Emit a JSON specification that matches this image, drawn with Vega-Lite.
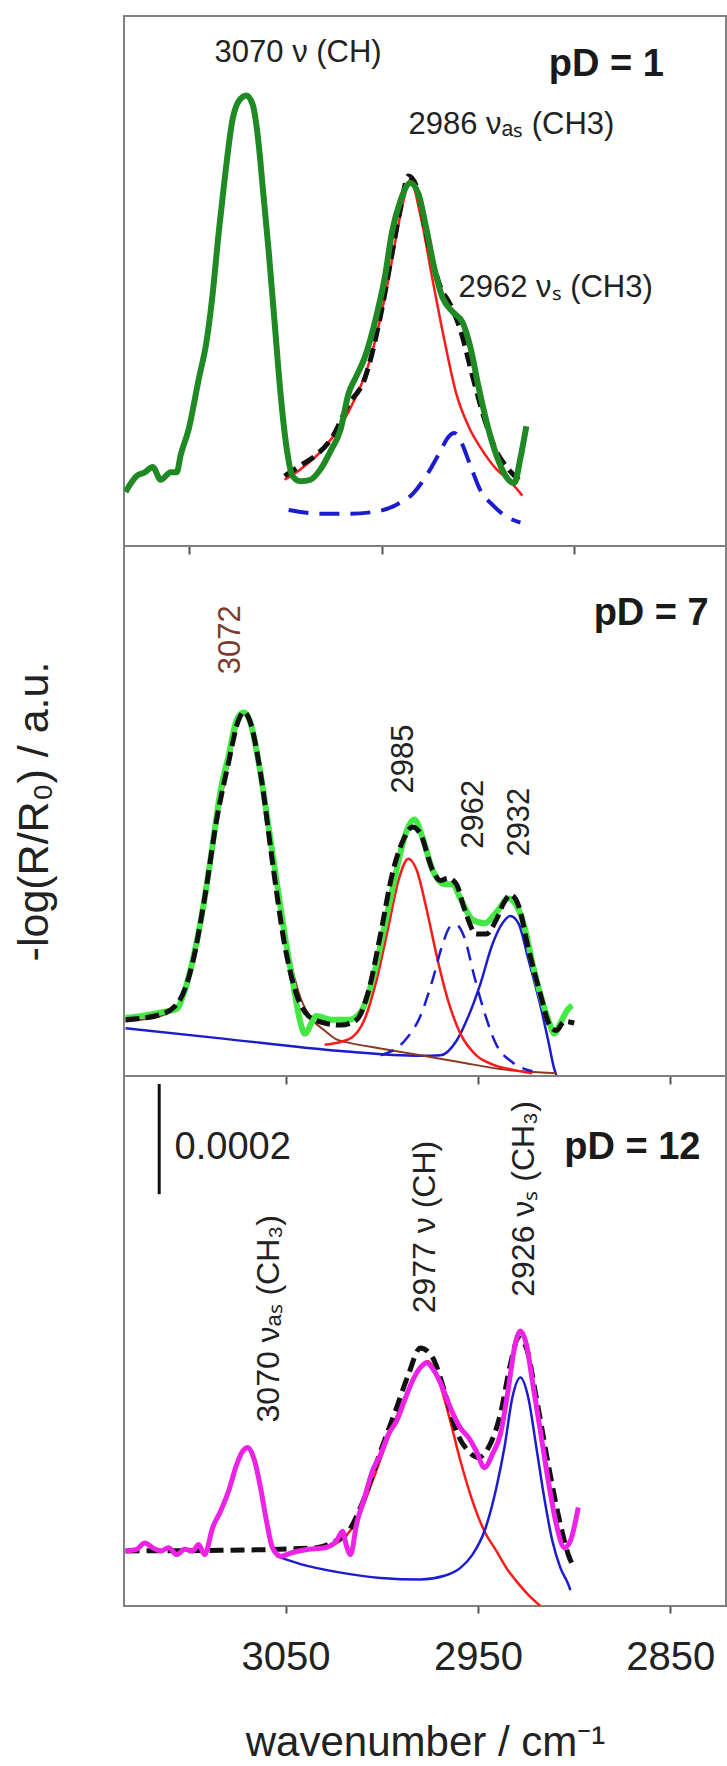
{
  "$schema": "https://vega.github.io/schema/vega-lite/v6.json",
  "padding": {"left": 12, "top": 15, "right": 2, "bottom": 5},
  "autosize": {"type": "pad"},
  "bounds": "flush",
  "spacing": 0,
  "config": {
    "view": {"stroke": "#808080", "strokeWidth": 2},
    "font": "Liberation Sans",
    "axis": {"grid": false, "domain": false, "tickColor": "#555555", "tickWidth": 2, "labelFont": "Liberation Sans", "titleFont": "Liberation Sans", "titleFontWeight": "normal", "labelColor": "#222222", "titleColor": "#222222"}
  },
  "datasets": {
    "curves": [
      {"panel":"pD 1","series":"spectrum","w":3133.2,"v":10.2},
      {"panel":"pD 1","series":"spectrum","w":3127.4,"v":13.2},
      {"panel":"pD 1","series":"spectrum","w":3123.2,"v":13.9},
      {"panel":"pD 1","series":"spectrum","w":3119.1,"v":14.9},
      {"panel":"pD 1","series":"spectrum","w":3114.9,"v":12.5},
      {"panel":"pD 1","series":"spectrum","w":3109.7,"v":13.9},
      {"panel":"pD 1","series":"spectrum","w":3106.6,"v":13.9},
      {"panel":"pD 1","series":"spectrum","w":3104.5,"v":17.2},
      {"panel":"pD 1","series":"spectrum","w":3100.4,"v":22.0},
      {"panel":"pD 1","series":"spectrum","w":3095.2,"v":31.4},
      {"panel":"pD 1","series":"spectrum","w":3091.0,"v":38.8},
      {"panel":"pD 1","series":"spectrum","w":3087.9,"v":47.6},
      {"panel":"pD 1","series":"spectrum","w":3084.8,"v":59.0},
      {"panel":"pD 1","series":"spectrum","w":3081.7,"v":69.1},
      {"panel":"pD 1","series":"spectrum","w":3077.5,"v":80.6},
      {"panel":"pD 1","series":"spectrum","w":3074.4,"v":83.9},
      {"panel":"pD 1","series":"spectrum","w":3070.3,"v":85.0},
      {"panel":"pD 1","series":"spectrum","w":3067.1,"v":83.3},
      {"panel":"pD 1","series":"spectrum","w":3064.0,"v":75.9},
      {"panel":"pD 1","series":"spectrum","w":3061.9,"v":67.8},
      {"panel":"pD 1","series":"spectrum","w":3058.8,"v":55.7},
      {"panel":"pD 1","series":"spectrum","w":3055.7,"v":42.2},
      {"panel":"pD 1","series":"spectrum","w":3052.6,"v":28.7},
      {"panel":"pD 1","series":"spectrum","w":3049.5,"v":18.6},
      {"panel":"pD 1","series":"spectrum","w":3046.4,"v":13.2},
      {"panel":"pD 1","series":"spectrum","w":3042.2,"v":12.2},
      {"panel":"pD 1","series":"spectrum","w":3037.0,"v":12.5},
      {"panel":"pD 1","series":"spectrum","w":3031.8,"v":14.5},
      {"panel":"pD 1","series":"spectrum","w":3026.6,"v":17.9},
      {"panel":"pD 1","series":"spectrum","w":3021.4,"v":22.0},
      {"panel":"pD 1","series":"spectrum","w":3017.3,"v":28.7},
      {"panel":"pD 1","series":"spectrum","w":3013.1,"v":32.1},
      {"panel":"pD 1","series":"spectrum","w":3009.0,"v":35.4},
      {"panel":"pD 1","series":"spectrum","w":3002.7,"v":43.5},
      {"panel":"pD 1","series":"spectrum","w":2998.6,"v":50.3},
      {"panel":"pD 1","series":"spectrum","w":2994.4,"v":59.7},
      {"panel":"pD 1","series":"spectrum","w":2990.3,"v":65.1},
      {"panel":"pD 1","series":"spectrum","w":2985.1,"v":68.5},
      {"panel":"pD 1","series":"spectrum","w":2980.9,"v":66.4},
      {"panel":"pD 1","series":"spectrum","w":2976.7,"v":59.7},
      {"panel":"pD 1","series":"spectrum","w":2972.6,"v":52.3},
      {"panel":"pD 1","series":"spectrum","w":2968.4,"v":46.9},
      {"panel":"pD 1","series":"spectrum","w":2963.2,"v":44.2},
      {"panel":"pD 1","series":"spectrum","w":2958.0,"v":42.2},
      {"panel":"pD 1","series":"spectrum","w":2953.9,"v":37.5},
      {"panel":"pD 1","series":"spectrum","w":2949.7,"v":30.1},
      {"panel":"pD 1","series":"spectrum","w":2944.5,"v":22.0},
      {"panel":"pD 1","series":"spectrum","w":2938.3,"v":15.2},
      {"panel":"pD 1","series":"spectrum","w":2934.1,"v":12.5},
      {"panel":"pD 1","series":"spectrum","w":2931.0,"v":11.9},
      {"panel":"pD 1","series":"spectrum","w":2927.9,"v":16.6},
      {"panel":"pD 1","series":"spectrum","w":2924.8,"v":22.6},

      {"panel":"pD 1","series":"fit","w":3050.5,"v":13.2},
      {"panel":"pD 1","series":"fit","w":3042.2,"v":15.2},
      {"panel":"pD 1","series":"fit","w":3033.9,"v":17.2},
      {"panel":"pD 1","series":"fit","w":3025.6,"v":20.6},
      {"panel":"pD 1","series":"fit","w":3017.3,"v":26.7},
      {"panel":"pD 1","series":"fit","w":3009.0,"v":31.4},
      {"panel":"pD 1","series":"fit","w":3000.6,"v":43.5},
      {"panel":"pD 1","series":"fit","w":2994.4,"v":55.7},
      {"panel":"pD 1","series":"fit","w":2990.3,"v":63.7},
      {"panel":"pD 1","series":"fit","w":2986.1,"v":69.8},
      {"panel":"pD 1","series":"fit","w":2981.9,"v":67.8},
      {"panel":"pD 1","series":"fit","w":2975.7,"v":57.0},
      {"panel":"pD 1","series":"fit","w":2969.5,"v":48.9},
      {"panel":"pD 1","series":"fit","w":2964.3,"v":45.5},
      {"panel":"pD 1","series":"fit","w":2959.1,"v":40.8},
      {"panel":"pD 1","series":"fit","w":2952.8,"v":32.1},
      {"panel":"pD 1","series":"fit","w":2946.6,"v":24.0},
      {"panel":"pD 1","series":"fit","w":2940.4,"v":17.9},
      {"panel":"pD 1","series":"fit","w":2934.1,"v":14.5},
      {"panel":"pD 1","series":"fit","w":2926.9,"v":11.9},

      {"panel":"pD 1","series":"red","w":3050.5,"v":12.5},
      {"panel":"pD 1","series":"red","w":3042.2,"v":14.5},
      {"panel":"pD 1","series":"red","w":3029.7,"v":18.6},
      {"panel":"pD 1","series":"red","w":3017.3,"v":25.3},
      {"panel":"pD 1","series":"red","w":3004.8,"v":36.8},
      {"panel":"pD 1","series":"red","w":2996.5,"v":50.3},
      {"panel":"pD 1","series":"red","w":2990.3,"v":62.4},
      {"panel":"pD 1","series":"red","w":2985.1,"v":69.1},
      {"panel":"pD 1","series":"red","w":2979.9,"v":62.4},
      {"panel":"pD 1","series":"red","w":2973.6,"v":50.3},
      {"panel":"pD 1","series":"red","w":2967.4,"v":38.8},
      {"panel":"pD 1","series":"red","w":2961.2,"v":28.7},
      {"panel":"pD 1","series":"red","w":2954.9,"v":22.6},
      {"panel":"pD 1","series":"red","w":2948.7,"v":18.6},
      {"panel":"pD 1","series":"red","w":2940.4,"v":14.5},
      {"panel":"pD 1","series":"red","w":2934.1,"v":12.5},
      {"panel":"pD 1","series":"red","w":2926.9,"v":9.5},

      {"panel":"pD 1","series":"blue dashed","w":3048.4,"v":6.8},
      {"panel":"pD 1","series":"blue dashed","w":3031.8,"v":6.1},
      {"panel":"pD 1","series":"blue dashed","w":3017.3,"v":6.1},
      {"panel":"pD 1","series":"blue dashed","w":3002.7,"v":6.5},
      {"panel":"pD 1","series":"blue dashed","w":2992.3,"v":7.8},
      {"panel":"pD 1","series":"blue dashed","w":2984.0,"v":9.8},
      {"panel":"pD 1","series":"blue dashed","w":2975.7,"v":13.9},
      {"panel":"pD 1","series":"blue dashed","w":2969.5,"v":17.9},
      {"panel":"pD 1","series":"blue dashed","w":2965.3,"v":20.6},
      {"panel":"pD 1","series":"blue dashed","w":2962.2,"v":21.3},
      {"panel":"pD 1","series":"blue dashed","w":2959.1,"v":19.9},
      {"panel":"pD 1","series":"blue dashed","w":2953.9,"v":15.2},
      {"panel":"pD 1","series":"blue dashed","w":2948.7,"v":10.5},
      {"panel":"pD 1","series":"blue dashed","w":2942.5,"v":7.8},
      {"panel":"pD 1","series":"blue dashed","w":2936.2,"v":5.8},
      {"panel":"pD 1","series":"blue dashed","w":2927.9,"v":4.4},

      {"panel":"pD 7","series":"spectrum","w":3133.2,"v":11.0},
      {"panel":"pD 7","series":"spectrum","w":3125.3,"v":11.3},
      {"panel":"pD 7","series":"spectrum","w":3114.9,"v":12.0},
      {"panel":"pD 7","series":"spectrum","w":3106.6,"v":12.7},
      {"panel":"pD 7","series":"spectrum","w":3102.5,"v":16.0},
      {"panel":"pD 7","series":"spectrum","w":3097.3,"v":23.4},
      {"panel":"pD 7","series":"spectrum","w":3092.1,"v":33.5},
      {"panel":"pD 7","series":"spectrum","w":3087.9,"v":43.7},
      {"panel":"pD 7","series":"spectrum","w":3083.8,"v":53.8},
      {"panel":"pD 7","series":"spectrum","w":3079.6,"v":60.5},
      {"panel":"pD 7","series":"spectrum","w":3075.4,"v":67.2},
      {"panel":"pD 7","series":"spectrum","w":3071.7,"v":68.6},
      {"panel":"pD 7","series":"spectrum","w":3068.2,"v":66.6},
      {"panel":"pD 7","series":"spectrum","w":3064.0,"v":59.2},
      {"panel":"pD 7","series":"spectrum","w":3058.8,"v":47.0},
      {"panel":"pD 7","series":"spectrum","w":3054.7,"v":36.9},
      {"panel":"pD 7","series":"spectrum","w":3050.5,"v":26.8},
      {"panel":"pD 7","series":"spectrum","w":3046.4,"v":18.1},
      {"panel":"pD 7","series":"spectrum","w":3042.2,"v":10.0},
      {"panel":"pD 7","series":"spectrum","w":3040.1,"v":8.0},
      {"panel":"pD 7","series":"spectrum","w":3033.9,"v":11.3},
      {"panel":"pD 7","series":"spectrum","w":3025.6,"v":10.6},
      {"panel":"pD 7","series":"spectrum","w":3017.3,"v":10.6},
      {"panel":"pD 7","series":"spectrum","w":3011.0,"v":12.0},
      {"panel":"pD 7","series":"spectrum","w":3004.8,"v":18.1},
      {"panel":"pD 7","series":"spectrum","w":2998.6,"v":28.2},
      {"panel":"pD 7","series":"spectrum","w":2992.3,"v":38.9},
      {"panel":"pD 7","series":"spectrum","w":2988.2,"v":45.0},
      {"panel":"pD 7","series":"spectrum","w":2983.0,"v":48.4},
      {"panel":"pD 7","series":"spectrum","w":2978.8,"v":45.0},
      {"panel":"pD 7","series":"spectrum","w":2973.6,"v":38.9},
      {"panel":"pD 7","series":"spectrum","w":2967.4,"v":36.2},
      {"panel":"pD 7","series":"spectrum","w":2963.2,"v":36.2},
      {"panel":"pD 7","series":"spectrum","w":2959.1,"v":33.5},
      {"panel":"pD 7","series":"spectrum","w":2952.8,"v":29.5},
      {"panel":"pD 7","series":"spectrum","w":2946.6,"v":28.8},
      {"panel":"pD 7","series":"spectrum","w":2940.4,"v":30.9},
      {"panel":"pD 7","series":"spectrum","w":2934.1,"v":33.5},
      {"panel":"pD 7","series":"spectrum","w":2930.0,"v":32.2},
      {"panel":"pD 7","series":"spectrum","w":2925.8,"v":28.2},
      {"panel":"pD 7","series":"spectrum","w":2921.7,"v":21.4},
      {"panel":"pD 7","series":"spectrum","w":2917.5,"v":15.4},
      {"panel":"pD 7","series":"spectrum","w":2913.4,"v":10.6},
      {"panel":"pD 7","series":"spectrum","w":2910.2,"v":8.0},
      {"panel":"pD 7","series":"spectrum","w":2907.1,"v":10.0},
      {"panel":"pD 7","series":"spectrum","w":2903.0,"v":12.7},
      {"panel":"pD 7","series":"spectrum","w":2900.9,"v":13.3},

      {"panel":"pD 7","series":"fit","w":3133.2,"v":10.6},
      {"panel":"pD 7","series":"fit","w":3114.9,"v":11.6},
      {"panel":"pD 7","series":"fit","w":3105.6,"v":14.0},
      {"panel":"pD 7","series":"fit","w":3098.3,"v":21.4},
      {"panel":"pD 7","series":"fit","w":3092.1,"v":33.5},
      {"panel":"pD 7","series":"fit","w":3085.8,"v":48.4},
      {"panel":"pD 7","series":"fit","w":3079.6,"v":59.2},
      {"panel":"pD 7","series":"fit","w":3074.4,"v":67.2},
      {"panel":"pD 7","series":"fit","w":3071.7,"v":68.7},
      {"panel":"pD 7","series":"fit","w":3068.2,"v":66.6},
      {"panel":"pD 7","series":"fit","w":3063.0,"v":57.1},
      {"panel":"pD 7","series":"fit","w":3056.8,"v":40.3},
      {"panel":"pD 7","series":"fit","w":3050.5,"v":24.8},
      {"panel":"pD 7","series":"fit","w":3044.3,"v":15.4},
      {"panel":"pD 7","series":"fit","w":3038.0,"v":11.3},
      {"panel":"pD 7","series":"fit","w":3029.7,"v":10.0},
      {"panel":"pD 7","series":"fit","w":3021.4,"v":9.6},
      {"panel":"pD 7","series":"fit","w":3013.1,"v":10.6},
      {"panel":"pD 7","series":"fit","w":3006.9,"v":16.0},
      {"panel":"pD 7","series":"fit","w":3000.6,"v":26.8},
      {"panel":"pD 7","series":"fit","w":2994.4,"v":38.3},
      {"panel":"pD 7","series":"fit","w":2988.2,"v":45.0},
      {"panel":"pD 7","series":"fit","w":2984.0,"v":47.0},
      {"panel":"pD 7","series":"fit","w":2979.9,"v":45.7},
      {"panel":"pD 7","series":"fit","w":2973.6,"v":38.9},
      {"panel":"pD 7","series":"fit","w":2969.5,"v":36.9},
      {"panel":"pD 7","series":"fit","w":2965.3,"v":37.3},
      {"panel":"pD 7","series":"fit","w":2961.2,"v":36.2},
      {"panel":"pD 7","series":"fit","w":2957.0,"v":31.5},
      {"panel":"pD 7","series":"fit","w":2950.8,"v":26.8},
      {"panel":"pD 7","series":"fit","w":2945.6,"v":26.8},
      {"panel":"pD 7","series":"fit","w":2940.4,"v":29.5},
      {"panel":"pD 7","series":"fit","w":2936.2,"v":32.9},
      {"panel":"pD 7","series":"fit","w":2933.1,"v":34.2},
      {"panel":"pD 7","series":"fit","w":2928.9,"v":32.2},
      {"panel":"pD 7","series":"fit","w":2923.8,"v":24.1},
      {"panel":"pD 7","series":"fit","w":2917.5,"v":15.4},
      {"panel":"pD 7","series":"fit","w":2912.3,"v":9.3},
      {"panel":"pD 7","series":"fit","w":2909.2,"v":8.6},
      {"panel":"pD 7","series":"fit","w":2905.0,"v":10.3},
      {"panel":"pD 7","series":"fit","w":2899.9,"v":10.0},

      {"panel":"pD 7","series":"brown","w":3133.2,"v":10.3},
      {"panel":"pD 7","series":"brown","w":3114.9,"v":11.3},
      {"panel":"pD 7","series":"brown","w":3105.6,"v":13.7},
      {"panel":"pD 7","series":"brown","w":3098.3,"v":21.1},
      {"panel":"pD 7","series":"brown","w":3092.1,"v":33.2},
      {"panel":"pD 7","series":"brown","w":3085.8,"v":48.0},
      {"panel":"pD 7","series":"brown","w":3079.6,"v":58.8},
      {"panel":"pD 7","series":"brown","w":3074.4,"v":66.9},
      {"panel":"pD 7","series":"brown","w":3071.7,"v":68.3},
      {"panel":"pD 7","series":"brown","w":3068.2,"v":66.2},
      {"panel":"pD 7","series":"brown","w":3063.0,"v":56.5},
      {"panel":"pD 7","series":"brown","w":3054.7,"v":36.9},
      {"panel":"pD 7","series":"brown","w":3048.4,"v":23.4},
      {"panel":"pD 7","series":"brown","w":3042.2,"v":14.7},
      {"panel":"pD 7","series":"brown","w":3036.0,"v":10.6},
      {"panel":"pD 7","series":"brown","w":3029.7,"v":8.6},
      {"panel":"pD 7","series":"brown","w":3023.5,"v":6.9},
      {"panel":"pD 7","series":"brown","w":3017.3,"v":6.3},
      {"panel":"pD 7","series":"brown","w":3000.6,"v":5.2},
      {"panel":"pD 7","series":"brown","w":2979.9,"v":3.9},
      {"panel":"pD 7","series":"brown","w":2959.1,"v":2.6},
      {"panel":"pD 7","series":"brown","w":2938.3,"v":1.3},
      {"panel":"pD 7","series":"brown","w":2909.2,"v":0.5},

      {"panel":"pD 7","series":"blue","w":3133.2,"v":9.0},
      {"panel":"pD 7","series":"blue","w":3083.8,"v":7.1},
      {"panel":"pD 7","series":"blue","w":3021.4,"v":4.7},
      {"panel":"pD 7","series":"blue","w":2979.9,"v":3.8},
      {"panel":"pD 7","series":"blue","w":2969.5,"v":3.9},
      {"panel":"pD 7","series":"blue","w":2961.2,"v":6.6},
      {"panel":"pD 7","series":"blue","w":2954.9,"v":11.3},
      {"panel":"pD 7","series":"blue","w":2948.7,"v":17.4},
      {"panel":"pD 7","series":"blue","w":2942.5,"v":24.8},
      {"panel":"pD 7","series":"blue","w":2937.3,"v":28.8},
      {"panel":"pD 7","series":"blue","w":2933.1,"v":30.2},
      {"panel":"pD 7","series":"blue","w":2928.9,"v":28.8},
      {"panel":"pD 7","series":"blue","w":2923.8,"v":22.1},
      {"panel":"pD 7","series":"blue","w":2917.5,"v":13.3},
      {"panel":"pD 7","series":"blue","w":2913.4,"v":6.6},
      {"panel":"pD 7","series":"blue","w":2910.2,"v":1.2},
      {"panel":"pD 7","series":"blue","w":2909.2,"v":0.2},

      {"panel":"pD 7","series":"red","w":3029.7,"v":5.9},
      {"panel":"pD 7","series":"red","w":3017.3,"v":6.9},
      {"panel":"pD 7","series":"red","w":3009.0,"v":10.6},
      {"panel":"pD 7","series":"red","w":3002.7,"v":18.1},
      {"panel":"pD 7","series":"red","w":2996.5,"v":28.2},
      {"panel":"pD 7","series":"red","w":2991.3,"v":36.9},
      {"panel":"pD 7","series":"red","w":2986.1,"v":41.0},
      {"panel":"pD 7","series":"red","w":2981.9,"v":38.9},
      {"panel":"pD 7","series":"red","w":2976.7,"v":31.5},
      {"panel":"pD 7","series":"red","w":2971.5,"v":22.8},
      {"panel":"pD 7","series":"red","w":2965.3,"v":14.0},
      {"panel":"pD 7","series":"red","w":2959.1,"v":8.0},
      {"panel":"pD 7","series":"red","w":2950.8,"v":3.9},
      {"panel":"pD 7","series":"red","w":2942.5,"v":2.2},
      {"panel":"pD 7","series":"red","w":2932.1,"v":1.2},
      {"panel":"pD 7","series":"red","w":2921.7,"v":0.5},

      {"panel":"pD 7","series":"blue dashed","w":3000.6,"v":3.9},
      {"panel":"pD 7","series":"blue dashed","w":2988.2,"v":6.6},
      {"panel":"pD 7","series":"blue dashed","w":2979.9,"v":11.3},
      {"panel":"pD 7","series":"blue dashed","w":2973.6,"v":18.1},
      {"panel":"pD 7","series":"blue dashed","w":2968.4,"v":24.8},
      {"panel":"pD 7","series":"blue dashed","w":2964.3,"v":28.2},
      {"panel":"pD 7","series":"blue dashed","w":2961.2,"v":28.5},
      {"panel":"pD 7","series":"blue dashed","w":2957.0,"v":26.1},
      {"panel":"pD 7","series":"blue dashed","w":2951.8,"v":18.7},
      {"panel":"pD 7","series":"blue dashed","w":2946.6,"v":12.0},
      {"panel":"pD 7","series":"blue dashed","w":2940.4,"v":5.9},
      {"panel":"pD 7","series":"blue dashed","w":2932.1,"v":2.6},
      {"panel":"pD 7","series":"blue dashed","w":2921.7,"v":0.9},

      {"panel":"pD 12","series":"spectrum","w":3133.2,"v":10.4},
      {"panel":"pD 12","series":"spectrum","w":3127.4,"v":10.7},
      {"panel":"pD 12","series":"spectrum","w":3123.2,"v":11.9},
      {"panel":"pD 12","series":"spectrum","w":3119.1,"v":11.0},
      {"panel":"pD 12","series":"spectrum","w":3114.9,"v":10.4},
      {"panel":"pD 12","series":"spectrum","w":3110.8,"v":11.0},
      {"panel":"pD 12","series":"spectrum","w":3106.6,"v":9.7},
      {"panel":"pD 12","series":"spectrum","w":3102.5,"v":10.7},
      {"panel":"pD 12","series":"spectrum","w":3098.3,"v":10.4},
      {"panel":"pD 12","series":"spectrum","w":3095.2,"v":11.6},
      {"panel":"pD 12","series":"spectrum","w":3092.1,"v":9.7},
      {"panel":"pD 12","series":"spectrum","w":3087.9,"v":14.8},
      {"panel":"pD 12","series":"spectrum","w":3083.8,"v":17.9},
      {"panel":"pD 12","series":"spectrum","w":3079.6,"v":21.7},
      {"panel":"pD 12","series":"spectrum","w":3075.4,"v":26.7},
      {"panel":"pD 12","series":"spectrum","w":3072.3,"v":29.2},
      {"panel":"pD 12","series":"spectrum","w":3069.6,"v":29.9},
      {"panel":"pD 12","series":"spectrum","w":3066.1,"v":27.4},
      {"panel":"pD 12","series":"spectrum","w":3063.0,"v":22.3},
      {"panel":"pD 12","series":"spectrum","w":3059.9,"v":16.0},
      {"panel":"pD 12","series":"spectrum","w":3056.8,"v":11.0},
      {"panel":"pD 12","series":"spectrum","w":3052.6,"v":9.4},
      {"panel":"pD 12","series":"spectrum","w":3046.4,"v":10.1},
      {"panel":"pD 12","series":"spectrum","w":3038.0,"v":10.7},
      {"panel":"pD 12","series":"spectrum","w":3029.7,"v":11.0},
      {"panel":"pD 12","series":"spectrum","w":3023.5,"v":12.3},
      {"panel":"pD 12","series":"spectrum","w":3020.4,"v":14.1},
      {"panel":"pD 12","series":"spectrum","w":3018.3,"v":11.3},
      {"panel":"pD 12","series":"spectrum","w":3016.2,"v":9.7},
      {"panel":"pD 12","series":"spectrum","w":3013.1,"v":15.4},
      {"panel":"pD 12","series":"spectrum","w":3009.0,"v":20.4},
      {"panel":"pD 12","series":"spectrum","w":3004.8,"v":25.5},
      {"panel":"pD 12","series":"spectrum","w":3000.6,"v":28.6},
      {"panel":"pD 12","series":"spectrum","w":2996.5,"v":32.4},
      {"panel":"pD 12","series":"spectrum","w":2992.3,"v":34.9},
      {"panel":"pD 12","series":"spectrum","w":2988.2,"v":38.7},
      {"panel":"pD 12","series":"spectrum","w":2984.0,"v":42.5},
      {"panel":"pD 12","series":"spectrum","w":2979.9,"v":45.0},
      {"panel":"pD 12","series":"spectrum","w":2976.7,"v":45.9},
      {"panel":"pD 12","series":"spectrum","w":2972.6,"v":44.3},
      {"panel":"pD 12","series":"spectrum","w":2968.4,"v":41.2},
      {"panel":"pD 12","series":"spectrum","w":2964.3,"v":37.4},
      {"panel":"pD 12","series":"spectrum","w":2959.1,"v":33.6},
      {"panel":"pD 12","series":"spectrum","w":2954.9,"v":31.8},
      {"panel":"pD 12","series":"spectrum","w":2950.8,"v":29.2},
      {"panel":"pD 12","series":"spectrum","w":2946.6,"v":26.1},
      {"panel":"pD 12","series":"spectrum","w":2942.5,"v":28.6},
      {"panel":"pD 12","series":"spectrum","w":2938.3,"v":32.4},
      {"panel":"pD 12","series":"spectrum","w":2934.1,"v":41.2},
      {"panel":"pD 12","series":"spectrum","w":2931.0,"v":48.7},
      {"panel":"pD 12","series":"spectrum","w":2927.9,"v":51.9},
      {"panel":"pD 12","series":"spectrum","w":2924.8,"v":49.4},
      {"panel":"pD 12","series":"spectrum","w":2921.7,"v":42.5},
      {"panel":"pD 12","series":"spectrum","w":2917.5,"v":33.0},
      {"panel":"pD 12","series":"spectrum","w":2913.4,"v":23.6},
      {"panel":"pD 12","series":"spectrum","w":2909.2,"v":15.4},
      {"panel":"pD 12","series":"spectrum","w":2905.0,"v":11.0},
      {"panel":"pD 12","series":"spectrum","w":2901.9,"v":12.3},
      {"panel":"pD 12","series":"spectrum","w":2897.8,"v":18.6},

      {"panel":"pD 12","series":"fit","w":3133.2,"v":10.4},
      {"panel":"pD 12","series":"fit","w":3083.8,"v":10.5},
      {"panel":"pD 12","series":"fit","w":3033.9,"v":11.0},
      {"panel":"pD 12","series":"fit","w":3025.6,"v":12.0},
      {"panel":"pD 12","series":"fit","w":3017.3,"v":14.1},
      {"panel":"pD 12","series":"fit","w":3009.0,"v":20.4},
      {"panel":"pD 12","series":"fit","w":3000.6,"v":29.2},
      {"panel":"pD 12","series":"fit","w":2992.3,"v":37.4},
      {"panel":"pD 12","series":"fit","w":2986.1,"v":43.7},
      {"panel":"pD 12","series":"fit","w":2979.9,"v":48.7},
      {"panel":"pD 12","series":"fit","w":2973.6,"v":46.9},
      {"panel":"pD 12","series":"fit","w":2967.4,"v":40.6},
      {"panel":"pD 12","series":"fit","w":2961.2,"v":33.0},
      {"panel":"pD 12","series":"fit","w":2954.9,"v":29.2},
      {"panel":"pD 12","series":"fit","w":2949.7,"v":28.0},
      {"panel":"pD 12","series":"fit","w":2944.5,"v":29.9},
      {"panel":"pD 12","series":"fit","w":2938.3,"v":36.2},
      {"panel":"pD 12","series":"fit","w":2933.1,"v":45.6},
      {"panel":"pD 12","series":"fit","w":2928.9,"v":50.6},
      {"panel":"pD 12","series":"fit","w":2924.8,"v":48.7},
      {"panel":"pD 12","series":"fit","w":2919.6,"v":39.3},
      {"panel":"pD 12","series":"fit","w":2913.4,"v":26.7},
      {"panel":"pD 12","series":"fit","w":2907.1,"v":15.4},
      {"panel":"pD 12","series":"fit","w":2903.0,"v":9.7},
      {"panel":"pD 12","series":"fit","w":2899.9,"v":7.2},

      {"panel":"pD 12","series":"red","w":3029.7,"v":10.7},
      {"panel":"pD 12","series":"red","w":3013.1,"v":16.0},
      {"panel":"pD 12","series":"red","w":3004.8,"v":23.6},
      {"panel":"pD 12","series":"red","w":2996.5,"v":31.8},
      {"panel":"pD 12","series":"red","w":2988.2,"v":39.3},
      {"panel":"pD 12","series":"red","w":2979.9,"v":45.0},
      {"panel":"pD 12","series":"red","w":2976.1,"v":46.2},
      {"panel":"pD 12","series":"red","w":2971.5,"v":43.7},
      {"panel":"pD 12","series":"red","w":2965.3,"v":36.2},
      {"panel":"pD 12","series":"red","w":2959.1,"v":27.4},
      {"panel":"pD 12","series":"red","w":2952.8,"v":19.8},
      {"panel":"pD 12","series":"red","w":2946.6,"v":14.1},
      {"panel":"pD 12","series":"red","w":2940.4,"v":10.4},
      {"panel":"pD 12","series":"red","w":2934.1,"v":6.6},
      {"panel":"pD 12","series":"red","w":2930.0,"v":4.7},
      {"panel":"pD 12","series":"red","w":2924.0,"v":2.2},
      {"panel":"pD 12","series":"red","w":2917.5,"v":0.0},

      {"panel":"pD 12","series":"blue","w":3054.7,"v":9.4},
      {"panel":"pD 12","series":"blue","w":3042.2,"v":7.9},
      {"panel":"pD 12","series":"blue","w":3021.4,"v":6.3},
      {"panel":"pD 12","series":"blue","w":3000.6,"v":5.3},
      {"panel":"pD 12","series":"blue","w":2979.9,"v":5.0},
      {"panel":"pD 12","series":"blue","w":2967.4,"v":5.7},
      {"panel":"pD 12","series":"blue","w":2959.1,"v":7.2},
      {"panel":"pD 12","series":"blue","w":2952.8,"v":9.7},
      {"panel":"pD 12","series":"blue","w":2946.6,"v":14.1},
      {"panel":"pD 12","series":"blue","w":2940.4,"v":22.3},
      {"panel":"pD 12","series":"blue","w":2936.2,"v":29.9},
      {"panel":"pD 12","series":"blue","w":2932.1,"v":39.3},
      {"panel":"pD 12","series":"blue","w":2927.9,"v":43.1},
      {"panel":"pD 12","series":"blue","w":2923.8,"v":39.3},
      {"panel":"pD 12","series":"blue","w":2919.6,"v":29.9},
      {"panel":"pD 12","series":"blue","w":2915.5,"v":20.4},
      {"panel":"pD 12","series":"blue","w":2911.3,"v":12.3},
      {"panel":"pD 12","series":"blue","w":2907.1,"v":7.2},
      {"panel":"pD 12","series":"blue","w":2903.0,"v":4.1},
      {"panel":"pD 12","series":"blue","w":2901.9,"v":3.0}
    ],
    "labels": [
      {"panel":"pD 1","kind":"peak","text":"3070 ν (CH)","w":3086.9,"v":91.3},
      {"panel":"pD 1","kind":"peak","text":"2986 νₐₛ (CH3)","w":2986.1,"v":77.7},
      {"panel":"pD 1","kind":"peak","text":"2962 νₛ (CH3)","w":2960.1,"v":47.0},
      {"panel":"pD 1","kind":"condition","text":"pD = 1","w":2883.2,"v":88.7},
      {"panel":"pD 7","kind":"peak rotated","text":"3072","w":3078.6,"v":82.3},
      {"panel":"pD 7","kind":"peak rotated","text":"2985","w":2988.2,"v":59.8},
      {"panel":"pD 7","kind":"peak rotated","text":"2962","w":2951.8,"v":49.4},
      {"panel":"pD 7","kind":"peak rotated","text":"2932","w":2927.9,"v":47.9},
      {"panel":"pD 7","kind":"condition","text":"pD = 7","w":2859.9,"v":85.1},
      {"panel":"pD 12","kind":"peak rotated","text":"3070 νₐₛ (CH₃)","w":3058.8,"v":54.2},
      {"panel":"pD 12","kind":"peak rotated","text":"2977 ν (CH)","w":2977.3,"v":71.5},
      {"panel":"pD 12","kind":"peak rotated","text":"2926 νₛ (CH₃)","w":2925.8,"v":76.8},
      {"panel":"pD 12","kind":"condition","text":"pD = 12","w":2869.7,"v":84.3},
      {"panel":"pD 12","kind":"scale","text":"0.0002","w":3107.7,"v":84.3}
    ],
    "scalebar": [
      {"panel":"pD 12","w":3115.7,"v":77.7,"v2":98.5}
    ]
  },
  "vconcat": [
    {
      "width": 602, "height": 530,
      "encoding": {
        "x": {"field": "w", "type": "quantitative", "scale": {"domain": [2821, 3134], "reverse": true, "nice": false, "zero": false},
              "axis": {"values": [3100, 3000, 2900], "labels": false, "title": null, "ticks": true, "tickSize": 8}},
        "y": {"field": "v", "type": "quantitative", "scale": {"domain": [0, 100], "nice": false, "zero": false}, "axis": null}
      },
      "layer": [
        {"data": {"name": "curves"}, "transform": [{"filter": "datum.panel === 'pD 1' && datum.series === 'blue dashed'"}],
         "mark": {"type": "line", "color": "#1c1ccf", "strokeWidth": 4, "strokeDash": [20, 11], "interpolate": "monotone", "clip": true}},
        {"data": {"name": "curves"}, "transform": [{"filter": "datum.panel === 'pD 1' && datum.series === 'red'"}],
         "mark": {"type": "line", "color": "#ff1a1a", "strokeWidth": 2.5, "interpolate": "monotone", "clip": true}},
        {"data": {"name": "curves"}, "transform": [{"filter": "datum.panel === 'pD 1' && datum.series === 'fit'"}],
         "mark": {"type": "line", "color": "#111111", "strokeWidth": 5, "strokeDash": [14, 7], "interpolate": "monotone", "clip": true}},
        {"data": {"name": "curves"}, "transform": [{"filter": "datum.panel === 'pD 1' && datum.series === 'spectrum'"}],
         "mark": {"type": "line", "color": "#1f8a24", "strokeWidth": 6, "interpolate": "monotone", "clip": true}},
        {"data": {"name": "labels"}, "transform": [{"filter": "datum.panel === 'pD 1' && datum.kind === 'peak'"}],
         "mark": {"type": "text", "align": "left", "baseline": "alphabetic", "fontSize": 31, "font": "Liberation Sans", "color": "#222222"},
         "encoding": {"text": {"field": "text"}}},
        {"data": {"name": "labels"}, "transform": [{"filter": "datum.panel === 'pD 1' && datum.kind === 'condition'"}],
         "mark": {"type": "text", "align": "center", "baseline": "alphabetic", "fontSize": 38, "fontWeight": "bold", "font": "Liberation Sans", "color": "#1a1a1a"},
         "encoding": {"text": {"field": "text"}}}
      ]
    },
    {
      "width": 602, "height": 530,
      "encoding": {
        "x": {"field": "w", "type": "quantitative", "scale": {"domain": [2821, 3134], "reverse": true, "nice": false, "zero": false},
              "axis": {"values": [3050, 2950, 2850], "labels": false, "title": null, "ticks": true, "tickSize": 8}},
        "y": {"field": "v", "type": "quantitative", "scale": {"domain": [0, 100], "nice": false, "zero": false},
              "axis": {"title": "-log(R/R₀) / a.u.", "labels": false, "ticks": false, "domain": false, "titleFontSize": 43, "titlePadding": 68}}
      },
      "layer": [
        {"data": {"name": "curves"}, "transform": [{"filter": "datum.panel === 'pD 7' && datum.series === 'blue'"}],
         "mark": {"type": "line", "color": "#1c1ccf", "strokeWidth": 2.5, "interpolate": "monotone", "clip": true}},
        {"data": {"name": "curves"}, "transform": [{"filter": "datum.panel === 'pD 7' && datum.series === 'brown'"}],
         "mark": {"type": "line", "color": "#8b3a1f", "strokeWidth": 2, "interpolate": "monotone", "clip": true}},
        {"data": {"name": "curves"}, "transform": [{"filter": "datum.panel === 'pD 7' && datum.series === 'red'"}],
         "mark": {"type": "line", "color": "#ff1a1a", "strokeWidth": 2.5, "interpolate": "monotone", "clip": true}},
        {"data": {"name": "curves"}, "transform": [{"filter": "datum.panel === 'pD 7' && datum.series === 'blue dashed'"}],
         "mark": {"type": "line", "color": "#1c1ccf", "strokeWidth": 2.5, "strokeDash": [14, 9], "interpolate": "monotone", "clip": true}},
        {"data": {"name": "curves"}, "transform": [{"filter": "datum.panel === 'pD 7' && datum.series === 'spectrum'"}],
         "mark": {"type": "line", "color": "#44e844", "strokeWidth": 6, "interpolate": "monotone", "clip": true}},
        {"data": {"name": "curves"}, "transform": [{"filter": "datum.panel === 'pD 7' && datum.series === 'fit'"}],
         "mark": {"type": "line", "color": "#111111", "strokeWidth": 5, "strokeDash": [14, 6], "interpolate": "monotone", "clip": true}},
        {"data": {"name": "labels"}, "transform": [{"filter": "datum.panel === 'pD 7' && datum.kind === 'peak rotated'"}],
         "mark": {"type": "text", "align": "center", "baseline": "middle", "angle": 270, "fontSize": 31, "font": "Liberation Sans"},
         "encoding": {"text": {"field": "text"},
                      "color": {"condition": {"test": "datum.text === '3072'", "value": "#7a3b2c"}, "value": "#222222"}}},
        {"data": {"name": "labels"}, "transform": [{"filter": "datum.panel === 'pD 7' && datum.kind === 'condition'"}],
         "mark": {"type": "text", "align": "center", "baseline": "alphabetic", "fontSize": 38, "fontWeight": "bold", "font": "Liberation Sans", "color": "#1a1a1a"},
         "encoding": {"text": {"field": "text"}}}
      ]
    },
    {
      "width": 602, "height": 530,
      "encoding": {
        "x": {"field": "w", "type": "quantitative", "scale": {"domain": [2821, 3134], "reverse": true, "nice": false, "zero": false},
              "axis": {"values": [3050, 2950, 2850], "format": "d", "title": "wavenumber / cm⁻¹", "ticks": true, "tickSize": 7,
                       "labelFontSize": 40, "labelPadding": 24, "labelFlush": false, "titleFontSize": 42, "titlePadding": 45}},
        "y": {"field": "v", "type": "quantitative", "scale": {"domain": [0, 100], "nice": false, "zero": false}, "axis": null}
      },
      "layer": [
        {"data": {"name": "curves"}, "transform": [{"filter": "datum.panel === 'pD 12' && datum.series === 'red'"}],
         "mark": {"type": "line", "color": "#ff1a1a", "strokeWidth": 2.5, "interpolate": "monotone", "clip": true}},
        {"data": {"name": "curves"}, "transform": [{"filter": "datum.panel === 'pD 12' && datum.series === 'blue'"}],
         "mark": {"type": "line", "color": "#1c1ccf", "strokeWidth": 2.5, "interpolate": "monotone", "clip": true}},
        {"data": {"name": "curves"}, "transform": [{"filter": "datum.panel === 'pD 12' && datum.series === 'fit'"}],
         "mark": {"type": "line", "color": "#111111", "strokeWidth": 5, "strokeDash": [14, 7], "interpolate": "monotone", "clip": true}},
        {"data": {"name": "curves"}, "transform": [{"filter": "datum.panel === 'pD 12' && datum.series === 'spectrum'"}],
         "mark": {"type": "line", "color": "#ee22e6", "strokeWidth": 5, "interpolate": "monotone", "clip": true}},
        {"data": {"name": "scalebar"},
         "mark": {"type": "rule", "color": "#111111", "strokeWidth": 3},
         "encoding": {"y2": {"field": "v2"}}},
        {"data": {"name": "labels"}, "transform": [{"filter": "datum.panel === 'pD 12' && datum.kind === 'peak rotated'"}],
         "mark": {"type": "text", "align": "center", "baseline": "middle", "angle": 270, "fontSize": 32, "font": "Liberation Sans", "color": "#222222"},
         "encoding": {"text": {"field": "text"}}},
        {"data": {"name": "labels"}, "transform": [{"filter": "datum.panel === 'pD 12' && datum.kind === 'scale'"}],
         "mark": {"type": "text", "align": "left", "baseline": "alphabetic", "fontSize": 38, "font": "Liberation Sans", "color": "#222222"},
         "encoding": {"text": {"field": "text"}}},
        {"data": {"name": "labels"}, "transform": [{"filter": "datum.panel === 'pD 12' && datum.kind === 'condition'"}],
         "mark": {"type": "text", "align": "center", "baseline": "alphabetic", "fontSize": 38, "fontWeight": "bold", "font": "Liberation Sans", "color": "#1a1a1a"},
         "encoding": {"text": {"field": "text"}}}
      ]
    }
  ]
}
